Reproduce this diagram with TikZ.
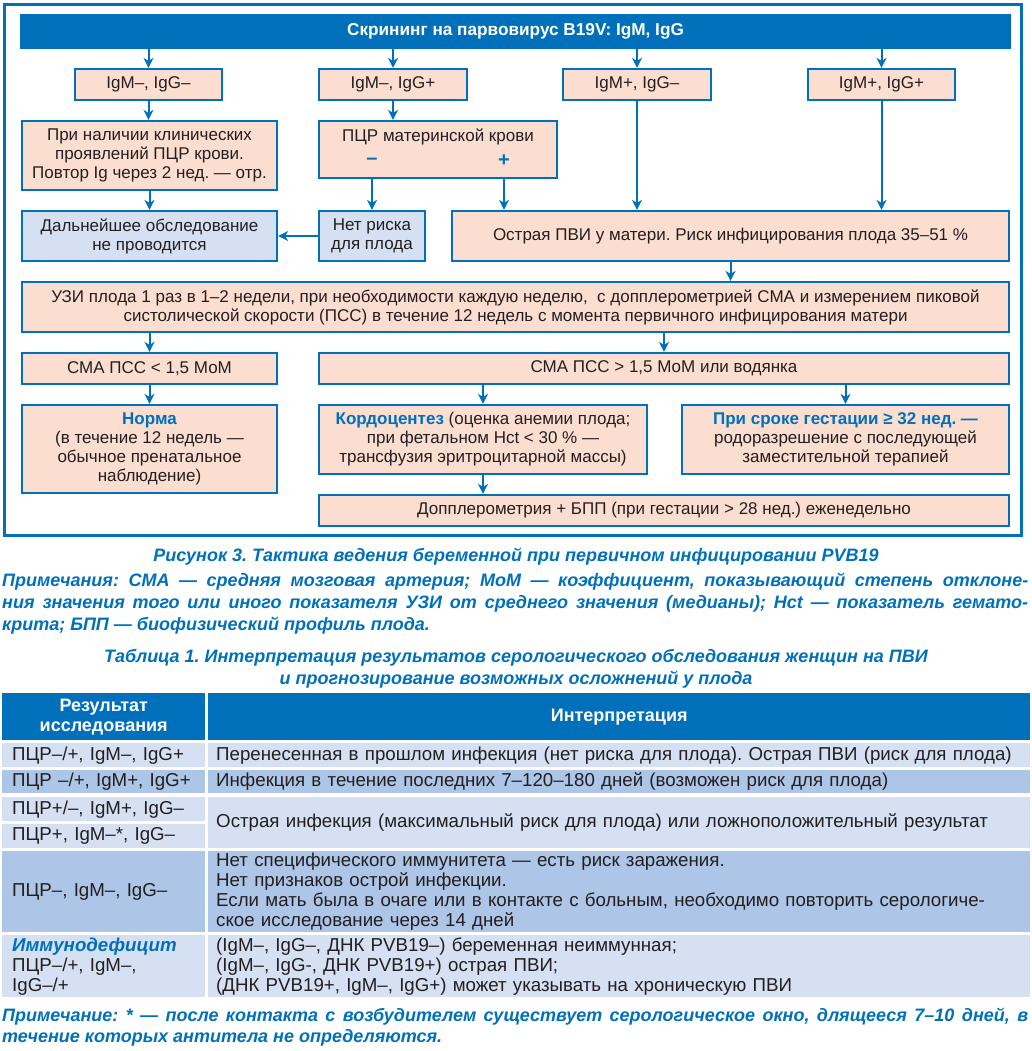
\documentclass[tikz,border=0pt]{standalone}
\usepackage{fontspec}
\setmainfont{Liberation Sans}
\usetikzlibrary{arrows.meta}
\frenchspacing

\definecolor{pvblue}{RGB}{0,112,186}
\definecolor{peach}{RGB}{252,222,208}
\definecolor{paleblue}{RGB}{213,225,242}
\definecolor{rowdark}{RGB}{173,197,230}
\definecolor{ink}{RGB}{35,31,32}

\tikzset{
  box/.style={draw=pvblue, line width=2.2pt, fill=peach, text=ink, align=center,
    inner sep=0pt, font=\fontsize{17}{19}\selectfont},
  arr/.style={draw=pvblue, line width=2pt, -{Stealth[length=10pt,width=10pt,inset=3pt]}},
  sign/.style={text=pvblue, inner sep=0pt, font=\fontsize{20}{20}\selectfont\bfseries},
  cell/.style={anchor=north west, inner ysep=0pt, text=ink, align=left,
    font=\fontsize{18.7}{20}\selectfont},
  headcell/.style={cell, fill=pvblue, text=white, align=center,
    font=\fontsize{18}{20}\selectfont\bfseries},
  caption/.style={text=pvblue, inner sep=0pt, font=\fontsize{18}{21.5}\selectfont\bfseries\itshape},
}

\begin{document}
\begin{tikzpicture}[x=1pt,y=-1pt]
  \useasboundingbox (0,0) rectangle (1032,1051);

  % Frame of the scheme
  \draw[pvblue, line width=3pt] (4,5) rectangle (1021,535);

  % Screening bar
  \node[fill=pvblue, text=white, inner sep=0pt, minimum width=991pt, minimum height=35pt,
    font=\fontsize{17.2}{19}\selectfont\bfseries] (screen) at (515.5,31.5)
    {\raisebox{-1pt}{Скрининг на парвовирус B19V: IgM, IgG}};

  % Serology results
  \node[box, minimum width=147pt, minimum height=31pt] (mngn) at (148.5,84.5) {IgM–, IgG–};
  \node[box, minimum width=148pt, minimum height=31pt] (mngp) at (393,84.5) {IgM–, IgG+};
  \node[box, minimum width=148pt, minimum height=31pt] (mpgn) at (637,84.5) {IgM+, IgG–};
  \node[box, minimum width=147pt, minimum height=31pt] (mpgp) at (881.5,84.5) {IgM+, IgG+};

  % Second level
  \node[box, minimum width=255pt, minimum height=69pt] (clinic) at (149.5,155.5)
    {При наличии клинических\\проявлений ПЦР крови.\\Повтор Ig через 2 нед. — отр.};
  \node[box, minimum width=238pt, minimum height=57pt] (pcr) at (438,149.5) {};
  \node[text=ink, inner sep=0pt, font=\fontsize{17}{19}\selectfont] (pcrtitle) at (438,137)
    {ПЦР материнской крови};
  \node[sign] (minus) at (372,161) {–};
  \node[sign] (plus) at (504,161) {+};

  % Third level
  \node[box, fill=paleblue, minimum width=255pt, minimum height=50pt] (nofurther) at (149.5,236)
    {Дальнейшее обследование\\не проводится};
  \node[box, fill=paleblue, minimum width=106pt, minimum height=50pt] (norisk) at (372,236)
    {Нет риска\\для плода};
  \node[box, minimum width=557pt, minimum height=50pt] (acute) at (730.5,236)
    {Острая ПВИ у матери. Риск инфицирования плода 35–51 \%};

  % Ultrasound monitoring
  \node[box, minimum width=987pt, minimum height=50pt] (uzi) at (515.5,307)
    {УЗИ плода 1 раз в 1–2 недели, при необходимости каждую неделю,\ \ с допплерометрией СМА и измерением пиковой\\
     систолической скорости (ПСС) в течение 12 недель с момента первичного инфицирования матери};
  \node[box, minimum width=255pt, minimum height=31pt] (lowpsv) at (149.5,368.5) {СМА ПСС < 1,5 МоМ};
  \node[box, minimum width=690pt, minimum height=31pt] (highpsv) at (664,368.5)
    {СМА ПСС > 1,5 МоМ или водянка};

  % Outcomes
  \node[box, minimum width=255pt, minimum height=88pt] (normal) at (149.5,449)
    {\textcolor{pvblue}{\bfseries Норма}\\(в течение 12 недель —\\обычное пренатальное\\наблюдение)};
  \node[box, minimum width=328pt, minimum height=69pt] (cordo) at (483,439.5)
    {\textcolor{pvblue}{\bfseries Кордоцентез} (оценка анемии плода;\\при фетальном Hct < 30 \% —\\
     трансфузия эритроцитарной массы)};
  \node[box, minimum width=327pt, minimum height=69pt] (delivery) at (845.5,439.5)
    {\textcolor{pvblue}{\bfseries При сроке гестации ≥ 32 нед. —}\\родоразрешение с последующей\\
     заместительной терапией};
  \node[box, minimum width=690pt, minimum height=31pt] (doppler) at (664,510.5)
    {Допплерометрия + БПП (при гестации > 28 нед.) еженедельно};

  % Connectors
  \draw[arr] (screen.south -| mngn) -- (mngn);
  \draw[arr] (screen.south -| mngp) -- (mngp);
  \draw[arr] (screen.south -| mpgn) -- (mpgn);
  \draw[arr] (screen.south -| mpgp) -- (mpgp);
  \draw[arr] (mngn.south) -- (mngn.south |- clinic.north);
  \draw[arr] (mngp.south) -- (mngp.south |- pcr.north);
  \draw[arr] (clinic) -- (nofurther);
  \draw[arr] (minus |- pcr.south) -- (minus |- norisk.north);
  \draw[arr] (plus |- pcr.south) -- (plus |- acute.north);
  \draw[arr] (mpgn) -- (mpgn |- acute.north);
  \draw[arr] (mpgp) -- (mpgp |- acute.north);
  \draw[arr] (norisk) -- (nofurther);
  \draw[arr] (acute) -- (acute |- uzi.north);
  \draw[arr] (lowpsv |- uzi.south) -- (lowpsv);
  \draw[arr] (highpsv |- uzi.south) -- (highpsv);
  \draw[arr] (lowpsv) -- (normal);
  \draw[arr] (cordo |- highpsv.south) -- (cordo);
  \draw[arr] (delivery |- highpsv.south) -- (delivery);
  \draw[arr] (cordo) -- (cordo |- doppler.north);

  % Figure caption and notes
  \node[caption] (figcap) at (516,557)
    {Рисунок 3. Тактика ведения беременной при первичном инфицировании PVB19};
  \node[caption, anchor=west] (note1) at (2,582)
    {\hbox to 1026pt{Примечания: СМА — средняя мозговая артерия; МоМ — коэффициент, показывающий степень отклоне-}};
  \node[caption, anchor=west] (note2) at (2,604)
    {\hbox to 1026pt{ния значения того или иного показателя УЗИ от среднего значения (медианы); Hct — показатель гемато-}};
  \node[caption, anchor=west] (note3) at (2,626) {крита; БПП — биофизический профиль плода.};

  % Table
  \node[caption, align=center] (tabcap) at (516,669)
    {Таблица 1. Интерпретация результатов серологического обследования женщин на ПВИ\\
     и прогнозирование возможных осложнений у плода};

  \node[headcell, text width=183pt, inner xsep=10pt, minimum height=47pt] (hres) at (2,693)
    {Результат\\исследования};
  \node[headcell, text width=806pt, inner xsep=8pt, minimum height=47pt] (hint) at (208,693)
    {Интерпретация};

  \node[cell, fill=paleblue, text width=183pt, inner xsep=10pt, minimum height=24pt] (r1a) at (2,743)
    {ПЦР–/+, IgM–, IgG+};
  \node[cell, fill=paleblue, text width=806pt, inner xsep=8pt, minimum height=24pt] (r1b) at (208,743)
    {Перенесенная в прошлом инфекция (нет риска для плода). Острая ПВИ (риск для плода)};

  \node[cell, fill=rowdark, text width=183pt, inner xsep=10pt, minimum height=23pt] (r2a) at (2,770)
    {ПЦР –/+, IgM+, IgG+};
  \node[cell, fill=rowdark, text width=806pt, inner xsep=8pt, minimum height=23pt] (r2b) at (208,770)
    {Инфекция в течение последних 7–120–180 дней (возможен риск для плода)};

  \node[cell, fill=paleblue, text width=183pt, inner xsep=10pt, minimum height=24pt] (r3a) at (2,797)
    {ПЦР+/–, IgM+, IgG–};
  \node[cell, fill=paleblue, text width=183pt, inner xsep=10pt, minimum height=24pt] (r4a) at (2,824)
    {ПЦР+, IgM–*, IgG–};
  \node[cell, fill=paleblue, text width=806pt, inner xsep=8pt, minimum height=51pt] (r34b) at (208,797)
    {Острая инфекция (максимальный риск для плода) или ложноположительный результат};

  \node[cell, fill=rowdark, text width=183pt, inner xsep=10pt, minimum height=81pt] (r5a) at (2,851)
    {ПЦР–, IgM–, IgG–};
  \node[cell, fill=rowdark, text width=806pt, inner xsep=8pt, minimum height=81pt] (r5b) at (208,851)
    {Нет специфического иммунитета — есть риск заражения.\\Нет признаков острой инфекции.\\
     Если мать была в очаге или в контакте с больным, необходимо повторить серологиче-\\
     ское исследование через 14 дней};

  \node[cell, fill=paleblue, text width=183pt, inner xsep=10pt, minimum height=62pt] (r6a) at (2,935)
    {\textcolor{pvblue}{\bfseries\itshape Иммунодефицит}\\ПЦР–/+, IgM–,\\IgG–/+};
  \node[cell, fill=paleblue, text width=806pt, inner xsep=8pt, minimum height=62pt] (r6b) at (208,935)
    {(IgM–, IgG–, ДНК PVB19–) беременная неиммунная;\\(IgM–, IgG-, ДНК PVB19+) острая ПВИ;\\
     (ДНК PVB19+, IgM–, IgG+) может указывать на хроническую ПВИ};

  % Table footnote
  \node[caption, anchor=west] (foot1) at (2,1017)
    {\hbox to 1026pt{Примечание: * — после контакта с возбудителем существует серологическое окно, длящееся 7–10 дней, в}};
  \node[caption, anchor=west] (foot2) at (2,1038) {течение которых антитела не определяются.};
\end{tikzpicture}
\end{document}
